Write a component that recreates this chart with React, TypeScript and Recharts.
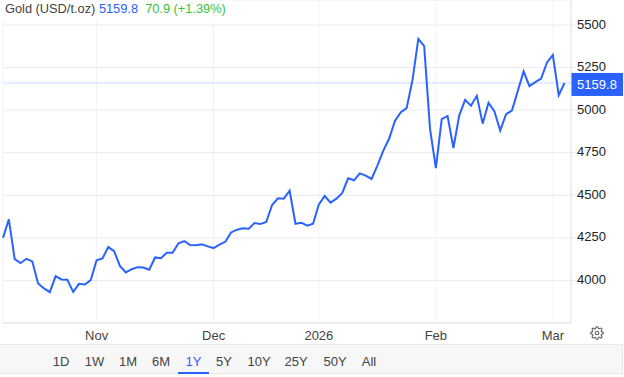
import { ComposedChart, Line, XAxis, YAxis, CartesianGrid, ReferenceLine } from "recharts";

const prices = [
  4250, 4359, 4125, 4102, 4127, 4112, 3982, 3953, 3931, 4025,
  4006, 4004, 3933, 3980, 3976, 4002, 4118, 4129, 4196, 4172,
  4084, 4047, 4066, 4078, 4076, 4063, 4135, 4131, 4163, 4163,
  4218, 4231, 4208, 4206, 4212, 4200, 4190, 4210, 4227, 4282,
  4298, 4306, 4304, 4337, 4331, 4343, 4443, 4482, 4480, 4527,
  4333, 4339, 4322, 4333, 4447, 4496, 4457, 4480, 4514, 4600,
  4588, 4629, 4616, 4596, 4674, 4761, 4832, 4937, 4988, 5012,
  5176, 5419, 5376, 4890, 4659, 4947, 4966, 4778, 4970, 5061,
  5026, 5084, 4921, 5043, 4994, 4880, 4976, 4998, 5112, 5228,
  5141, 5165, 5186, 5280, 5324, 5088, 5159.8,
];
const monthTicks = [16, 36, 54, 74, 94];
const monthLabels = ["Nov", "Dec", "2026", "Feb", "Mar"];
const priceTicks = [4000, 4250, 4500, 4750, 5000, 5250, 5500];
const lastPrice = 5159.8;
const ranges = ["1D", "1W", "1M", "6M", "1Y", "5Y", "10Y", "25Y", "50Y", "All"];
const rangeX = [61, 94.5, 128, 161, 193.5, 224, 259, 296, 335, 369];
const activeRange = "1Y";

const data = prices.map((price, i) => ({ i, price }));
const FONT = "'Liberation Sans', Arial, sans-serif";

function PriceTag({ viewBox }: any) {
  const y = viewBox.y;
  return (
    <g>
      <rect x={571} y={y - 10} width={52} height={23} fill="#2962ff" />
      <text x={597} y={y + 6} textAnchor="middle" fontSize={13} fontFamily={FONT} fill="#fff">
        {lastPrice}
      </text>
    </g>
  );
}

export default function App() {
  return (
    <div style={{ position: "fixed", left: 0, top: 0, width: 624, height: 377, background: "#fff", fontFamily: FONT, overflow: "hidden" }}>
      <ComposedChart width={624} height={345} data={data} margin={{ top: 0, right: 0, left: 3, bottom: 0 }}>
        <CartesianGrid horizontal={false} stroke="#f1f3f7" />
        <CartesianGrid vertical={false} stroke="#ebebeb" />
        <XAxis
          dataKey="i"
          type="number"
          domain={[0, 97.1]}
          ticks={monthTicks}
          tickFormatter={(v: number) => monthLabels[monthTicks.indexOf(v)]}
          tickLine={false}
          stroke="#e6e6e6"
          tick={{ fontSize: 13, fill: "#444", fontFamily: FONT }}
          interval={0}
          height={22}
        />
        <YAxis
          orientation="right"
          domain={[3750, 5647]}
          ticks={priceTicks}
          tickSize={4}
          stroke="#e6e6e6"
          tick={{ fontSize: 13, fill: "#222", fontFamily: FONT, dy: -1 }}
          interval={0}
          width={53}
          allowDataOverflow
        />
        <ReferenceLine y={lastPrice} stroke="#a9bfff" strokeDasharray="1 1" ifOverflow="visible" label={<PriceTag />} />
        <Line dataKey="price" type="linear" stroke="#2962ff" strokeWidth={2} dot={false} isAnimationActive={false} />
      </ComposedChart>

      {/* header sits on white so the vertical grid stops under it */}
      <div style={{ position: "absolute", left: 0, top: 0, width: 232, height: 19, background: "#fff", fontSize: 12.8, lineHeight: "18px", paddingLeft: 5, boxSizing: "border-box", whiteSpace: "pre" }}>
        <span style={{ color: "#444" }}>Gold (USD/t.oz) </span>
        <span style={{ color: "#2962ff" }}>5159.8</span>
        <span style={{ color: "#3cc13b" }}>{"  70.9 (+1.39%)"}</span>
      </div>

      {/* settings gear */}
      <svg style={{ position: "absolute", left: 590, top: 326 }} width={14} height={14} viewBox="0 0 24 24" fill="none" stroke="#666" strokeWidth={2}>
        <circle cx={12} cy={12} r={3} />
        <path d="M19.4 15a1.65 1.65 0 0 0 .33 1.82l.06.06a2 2 0 1 1-2.83 2.83l-.06-.06a1.65 1.65 0 0 0-2.82 1.17V21a2 2 0 1 1-4 0v-.09a1.65 1.65 0 0 0-2.82-1.17l-.06.06a2 2 0 1 1-2.83-2.83l.06-.06A1.65 1.65 0 0 0 3.26 14H3a2 2 0 1 1 0-4h.09a1.65 1.65 0 0 0 1.17-2.82l-.06-.06a2 2 0 1 1 2.83-2.83l.06.06A1.65 1.65 0 0 0 10 3.17V3a2 2 0 1 1 4 0v.09a1.65 1.65 0 0 0 2.82 1.17l.06-.06a2 2 0 1 1 2.83 2.83l-.06.06A1.65 1.65 0 0 0 20.83 10H21a2 2 0 1 1 0 4h-.09a1.65 1.65 0 0 0-1.51 1z" />
      </svg>

      {/* range selector */}
      <div style={{ position: "absolute", left: 0, top: 344, width: 623, height: 30, background: "#f7f7f7", borderTop: "1px solid #e8e8e8", borderBottom: "1px solid #e8e8e8", borderRight: "1px solid #e8e8e8", boxSizing: "border-box" }}>
        {ranges.map((r, idx) => (
          <span key={r} style={{ position: "absolute", left: rangeX[idx], top: 9, transform: "translateX(-50%)", fontSize: 13, lineHeight: "16px", color: r === activeRange ? "#2962ff" : "#444" }}>
            {r}
          </span>
        ))}
        <div style={{ position: "absolute", left: 178, top: 27, width: 31, height: 2, background: "#2962ff" }} />
      </div>
    </div>
  );
}
